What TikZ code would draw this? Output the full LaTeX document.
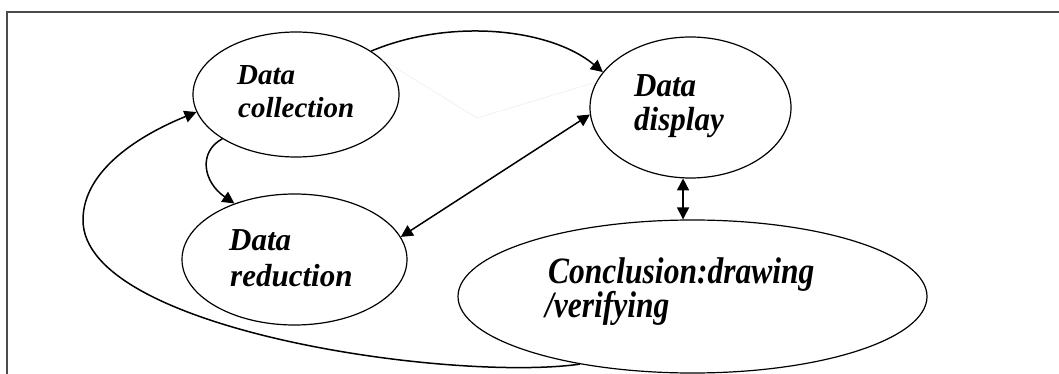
\documentclass[tikz,border=0pt]{standalone}
\usepackage{fontspec}
\setmainfont{Liberation Serif}
\usetikzlibrary{shapes.geometric,arrows.meta}
\newcommand{\vstr}[2]{\scalebox{1}[#1]{#2}}
\begin{document}
\begin{tikzpicture}[x=1pt,y=-1pt,
  ell/.style={draw=black,line width=1.2pt,ellipse,inner sep=0pt,minimum width=#1},
  lbl/.style={anchor=base west,inner sep=0pt},
  tip/.style={-{Triangle[length=12pt,width=12pt]}},
  dbl/.style={{Triangle[length=12pt,width=12pt]}-{Triangle[length=12pt,width=12pt]}},
  conn/.style={draw=black,line width=1.5pt}]
\useasboundingbox (0,0) rectangle (1059,374);
% frame
\draw[black!70,line width=1.3pt] (7,374) -- (7,12) -- (1059,12);
% ellipses
\node[ell=206pt,minimum height=125pt] (dc) at (296,94.5) {};
\node[ell=225pt,minimum height=131pt] (dr) at (294.5,259.5) {};
\node[ell=201pt,minimum height=141pt] (dd) at (690.5,107.5) {};
\node[ell=469pt,minimum height=153pt] (cv) at (692.5,296.5) {};
% texts
\node[lbl,font=\fontsize{29}{33}\selectfont\bfseries\itshape] (dc1) at (237,85) {Data};
\node[lbl,font=\fontsize{29}{33}\selectfont\bfseries\itshape] (dc2) at (238,118) {collection};
\node[lbl,font=\fontsize{31}{36}\selectfont\bfseries\itshape] (dr1) at (229,250) {\vstr{1.03}{Data}};
\node[lbl,font=\fontsize{31}{36}\selectfont\bfseries\itshape] (dr2) at (230,286) {\vstr{1.03}{reduction}};
\node[lbl,font=\fontsize{31}{35}\selectfont\bfseries\itshape] (dd1) at (634,97) {\vstr{1.08}{Data}};
\node[lbl,font=\fontsize{31}{35}\selectfont\bfseries\itshape] (dd2) at (634,131) {\vstr{1.08}{display}};
\node[lbl,font=\fontsize{31.5}{35}\selectfont\bfseries\itshape] (cv1) at (548,283) {\vstr{1.18}{Conclusion:drawing}};
\node[lbl,font=\fontsize{31.5}{35}\selectfont\bfseries\itshape] (cv2) at (545,317) {\vstr{1.18}{/verifying}};
% faint ghost line
\draw[black!7,line width=0.6pt] (dc.22) -- (477,118) -- (dd.165);
% connectors
\draw[conn,tip] (dc.30) .. controls (450,18) and (550,28) .. (dd.158);
\draw[conn,tip] (dc.211) .. controls (198,152) and (203,182) .. (dr.137);
\draw[conn,dbl] (dr.12) -- (dd.184);
\draw[conn,dbl] (dd.264) -- (dd.264 |- cv.north);
\coordinate (lp) at (83,220);
\draw[conn,tip] (cv.211) .. controls (450,382) and (83,330) .. (lp)
  .. controls (83,170) and (140,135) .. (dc.190);
\end{tikzpicture}
\end{document}
